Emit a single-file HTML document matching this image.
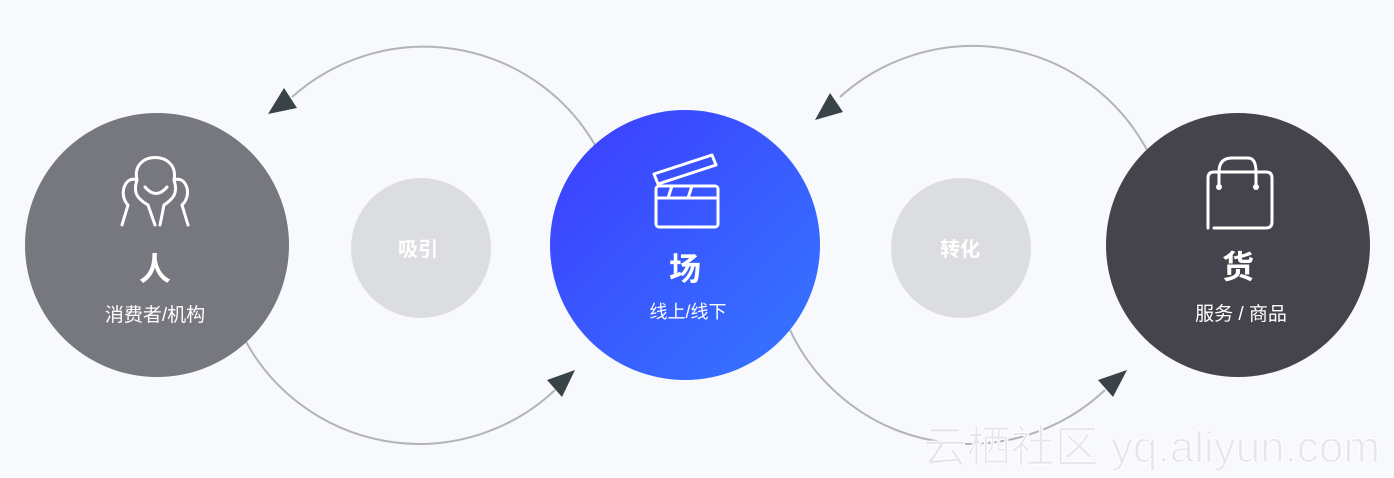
<!DOCTYPE html>
<html><head><meta charset="utf-8"><style>
html,body{margin:0;padding:0;width:1394px;height:478px;background:#f8f9fc;overflow:hidden;font-family:"Liberation Sans","Noto Sans CJK SC",sans-serif}
</style></head><body>
<svg width="1394" height="478" viewBox="0 0 1394 478" xmlns="http://www.w3.org/2000/svg" style="position:absolute;left:0;top:0">
<defs><linearGradient id="g" x1="0" y1="0" x2="1" y2="1"><stop offset="0" stop-color="#3d3cff"/><stop offset="1" stop-color="#3478ff"/></linearGradient></defs>
<g fill="none" stroke="#b2b4b9" stroke-width="2">
<path d="M595 145 A198 198 0 0 0 292 97"/>
<path d="M245 340 A198 198 0 0 0 555 390"/>
<path d="M1147 150 A198 198 0 0 0 840 97"/>
<path d="M790 330 A198 198 0 0 0 1105 390"/>
</g>
<g fill="#3a4448">
<polygon points="268,114 284,88 297,108"/>
<polygon points="575,370 547,380 562,397"/>
<polygon points="815,120 830,93 843,112"/>
<polygon points="1127,370 1098,380 1113,397"/>
</g>
<circle cx="157" cy="245" r="132" fill="#76777f"/>
<circle cx="685" cy="245" r="135" fill="url(#g)"/>
<circle cx="1238" cy="245" r="132" fill="#45444c"/>
<circle cx="421" cy="248" r="70" fill="#dcdde0"/>
<circle cx="961" cy="248" r="70" fill="#dcdde0"/>
<g fill="none" stroke="#fff" stroke-width="3" stroke-linecap="round">
<path d="M137 180 C130 150 180 150 174 180"/>
<path d="M137 180 C125 175 118 195 128 205 L122 225"/>
<path d="M174 180 C186 175 193 195 182 205 L188 225"/>
<path d="M137 180 C132 195 140 200 148 205 L155 225"/>
<path d="M174 180 C179 195 171 200 164 205 L160 225"/>
<path d="M145 187 Q156 200 167 187"/>
</g>
<g fill="none" stroke="#fff" stroke-width="3" stroke-linejoin="round">
<rect x="656" y="186" width="62" height="41" rx="3"/>
<line x1="656" y1="198" x2="718" y2="198"/>
<line x1="672" y1="186" x2="668" y2="198"/><line x1="692" y1="186" x2="688" y2="198"/>
<path d="M654 174 L712 155 L716 165 L658 184 Z"/>
</g>
<g fill="none" stroke="#fff" stroke-width="3" stroke-linecap="round">
<path d="M1208 228 L1208 178 Q1208 172 1214 172 L1266 172 Q1272 172 1272 178 L1272 222 Q1272 228 1266 228 L1214 228"/>
<path d="M1219 186 L1219 172 Q1219 158 1232 158 L1248 158 Q1256 158 1256 172 L1256 186"/>
</g>
<circle cx="1219" cy="187" r="3" fill="#fff"/><circle cx="1256" cy="187" r="3" fill="#fff"/>
<g fill="#fff" text-anchor="middle" font-family="Liberation Sans,Noto Sans CJK SC,sans-serif">
<text x="155" y="280" font-size="32" font-weight="bold">人</text>
<text x="155" y="321" font-size="19">消费者/机构</text>
<text x="685" y="280" font-size="32" font-weight="bold">场</text>
<text x="688" y="318" font-size="18">线上/线下</text>
<text x="1238" y="278" font-size="32" font-weight="bold">货</text>
<text x="1241" y="320" font-size="19">服务 / 商品</text>
<text x="418" y="256" font-size="20" font-weight="bold">吸引</text>
<text x="960" y="256" font-size="20" font-weight="bold">转化</text>
</g>
<text x="1380" y="462" text-anchor="end" font-size="44" fill="#e6e7ea" stroke="#fff" stroke-width="1" font-family="Liberation Sans,Noto Sans CJK SC,sans-serif">云栖社区 yq.aliyun.com</text>
</svg>
</body></html>
